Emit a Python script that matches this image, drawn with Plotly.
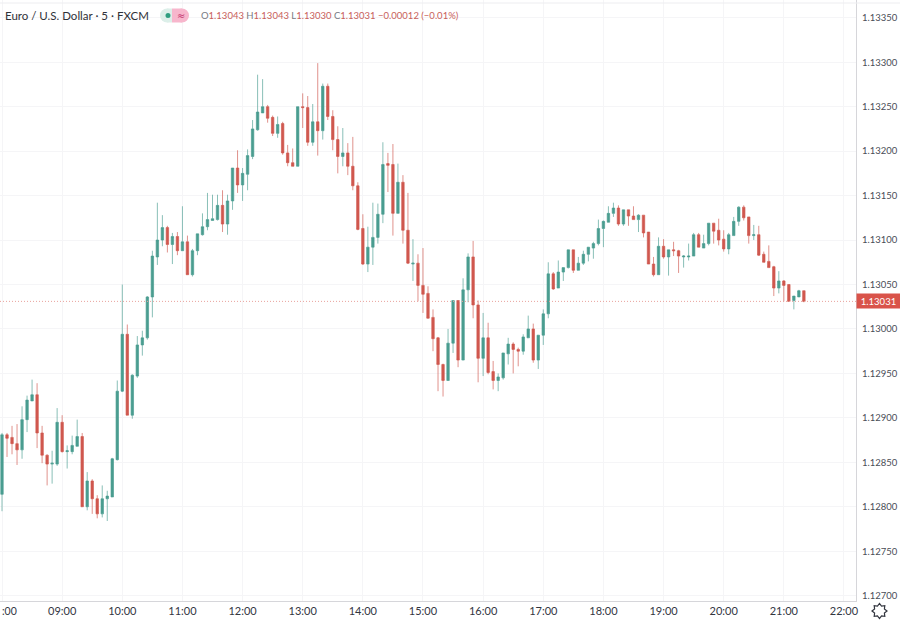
import math
import pandas as pd
import plotly.graph_objects as go

# 5 minute bars, EUR/USD
opens = [
    1.12814,1.12881,1.12878,1.12871,1.12864,1.12898,1.12919,1.12926,1.12883,1.12858,
    1.12848,1.12848,1.12895,1.12862,1.12862,1.12868,1.12879,1.12800,1.12829,1.12809,
    1.12792,1.12809,1.12811,1.12853,1.12930,1.12994,1.12903,1.12947,1.12982,1.12990,
    1.13036,1.13081,1.13100,1.13114,1.13095,1.13104,1.13088,1.13098,1.13061,1.13088,
    1.13106,1.13115,1.13122,1.13123,1.13139,1.13118,1.13144,1.13181,1.13162,1.13174,
    1.13194,1.13224,1.13243,1.13250,1.13238,1.13220,1.13231,1.13198,1.13187,1.13183,
    1.13250,1.13249,1.13210,1.13233,1.13223,1.13273,1.13239,1.13213,1.13194,1.13198,
    1.13183,1.13161,1.13113,1.13073,1.13092,1.13103,1.13129,1.13186,1.13185,1.13130,
    1.13165,1.13111,1.13073,1.13074,1.13049,1.13040,1.13013,1.12990,1.12960,1.12942,
    1.12984,1.13032,1.12965,1.13044,1.13081,1.13027,1.12967,1.12990,1.12952,1.12942,
    1.12945,1.12972,1.12983,1.12977,1.12975,1.12990,1.13000,1.12965,1.12993,1.13017,
    1.13062,1.13046,1.13064,1.13069,1.13089,1.13066,1.13074,1.13084,1.13091,1.13096,
    1.13113,1.13120,1.13130,1.13136,1.13118,1.13134,1.13127,1.13123,1.13128,1.13109,
    1.13073,1.13061,1.13093,1.13081,1.13089,1.13088,1.13081,1.13081,1.13082,1.13106,
    1.13091,1.13096,1.13119,1.13111,1.13101,1.13090,1.13105,1.13121,1.13137,1.13126,
    1.13105,1.13106,1.13084,1.13076,1.13070,1.13046,1.13054,1.13050,1.13032,1.13036,1.13043,
]
highs = [
    1.12883,1.12883,1.12891,1.12893,1.12913,1.12925,1.12943,1.12939,1.12891,1.12859,
    1.12863,1.12911,1.12903,1.12869,1.12880,1.12898,1.12883,1.12839,1.12831,1.12813,
    1.12824,1.12818,1.12855,1.12942,1.13050,1.13005,1.12949,1.12992,1.12998,1.13037,
    1.13088,1.13142,1.13128,1.13116,1.13108,1.13109,1.13138,1.13105,1.13090,1.13107,
    1.13130,1.13153,1.13151,1.13151,1.13156,1.13151,1.13181,1.13201,1.13181,1.13202,
    1.13235,1.13286,1.13281,1.13252,1.13240,1.13239,1.13233,1.13207,1.13203,1.13250,
    1.13265,1.13262,1.13253,1.13299,1.13276,1.13276,1.13246,1.13228,1.13226,1.13209,
    1.13216,1.13165,1.13129,1.13115,1.13142,1.13141,1.13210,1.13198,1.13208,1.13186,
    1.13173,1.13153,1.13101,1.13084,1.13091,1.13048,1.13022,1.12991,1.12961,1.13000,
    1.13032,1.13032,1.13057,1.13085,1.13099,1.13032,1.13018,1.13007,1.12964,1.12950,
    1.12973,1.12990,1.12985,1.12979,1.12994,1.13015,1.13006,1.12993,1.13022,1.13075,
    1.13064,1.13077,1.13069,1.13089,1.13089,1.13081,1.13088,1.13092,1.13098,1.13123,
    1.13122,1.13138,1.13142,1.13139,1.13134,1.13134,1.13138,1.13129,1.13128,1.13109,
    1.13081,1.13103,1.13101,1.13089,1.13098,1.13089,1.13083,1.13096,1.13108,1.13108,
    1.13106,1.13119,1.13119,1.13124,1.13111,1.13108,1.13126,1.13138,1.13139,1.13126,
    1.13117,1.13116,1.13087,1.13094,1.13071,1.13065,1.13055,1.13050,1.13037,1.13044,1.13043,
]
lows = [
    1.12795,1.12856,1.12859,1.12847,1.12854,1.12884,1.12919,1.12866,1.12849,1.12824,
    1.12826,1.12846,1.12861,1.12843,1.12859,1.12868,1.12800,1.12796,1.12792,1.12787,
    1.12788,1.12784,1.12811,1.12852,1.12929,1.12903,1.12899,1.12945,1.12970,1.12988,
    1.13013,1.13072,1.13093,1.13086,1.13073,1.13083,1.13088,1.13061,1.13059,1.13083,
    1.13105,1.13111,1.13122,1.13122,1.13109,1.13106,1.13134,1.13153,1.13144,1.13156,
    1.13191,1.13223,1.13243,1.13232,1.13217,1.13215,1.13196,1.13183,1.13183,1.13183,
    1.13226,1.13206,1.13206,1.13195,1.13213,1.13235,1.13201,1.13175,1.13183,1.13173,
    1.13156,1.13111,1.13072,1.13064,1.13072,1.13096,1.13119,1.13154,1.13105,1.13130,
    1.13096,1.13073,1.13054,1.13031,1.13018,1.13012,1.12975,1.12930,1.12924,1.12942,
    1.12973,1.12957,1.12965,1.13030,1.13012,1.12940,1.12947,1.12949,1.12932,1.12930,
    1.12943,1.12960,1.12950,1.12958,1.12971,1.12990,1.12962,1.12955,1.12982,1.13012,
    1.13044,1.13046,1.13054,1.13068,1.13063,1.13066,1.13072,1.13076,1.13079,1.13094,
    1.13092,1.13120,1.13126,1.13116,1.13116,1.13116,1.13123,1.13109,1.13103,1.13073,
    1.13059,1.13061,1.13079,1.13060,1.13082,1.13063,1.13069,1.13077,1.13082,1.13092,
    1.13091,1.13094,1.13096,1.13094,1.13087,1.13084,1.13105,1.13116,1.13122,1.13096,
    1.13100,1.13082,1.13075,1.13069,1.13037,1.13040,1.13031,1.13031,1.13022,1.13036,1.13030,
]
closes = [
    1.12881,1.12877,1.12871,1.12864,1.12898,1.12920,1.12926,1.12883,1.12858,1.12848,
    1.12849,1.12895,1.12862,1.12863,1.12869,1.12879,1.12800,1.12829,1.12809,1.12792,
    1.12809,1.12812,1.12854,1.12930,1.12994,1.12903,1.12948,1.12982,1.12990,1.13036,
    1.13082,1.13100,1.13114,1.13095,1.13104,1.13088,1.13098,1.13061,1.13088,1.13107,
    1.13115,1.13123,1.13124,1.13139,1.13118,1.13144,1.13181,1.13162,1.13175,1.13195,
    1.13225,1.13244,1.13250,1.13237,1.13220,1.13230,1.13198,1.13187,1.13183,1.13250,
    1.13249,1.13210,1.13233,1.13223,1.13273,1.13239,1.13213,1.13194,1.13198,1.13183,
    1.13161,1.13112,1.13073,1.13092,1.13103,1.13129,1.13185,1.13184,1.13130,1.13165,
    1.13111,1.13074,1.13074,1.13049,1.13039,1.13012,1.12989,1.12960,1.12942,1.12984,
    1.13032,1.12965,1.13044,1.13081,1.13027,1.12967,1.12990,1.12951,1.12942,1.12946,
    1.12973,1.12983,1.12977,1.12975,1.12991,1.13000,1.12965,1.12993,1.13017,1.13062,
    1.13045,1.13064,1.13069,1.13089,1.13066,1.13074,1.13084,1.13092,1.13096,1.13113,
    1.13121,1.13130,1.13136,1.13118,1.13134,1.13127,1.13123,1.13128,1.13108,1.13073,
    1.13061,1.13093,1.13081,1.13089,1.13088,1.13082,1.13082,1.13082,1.13106,1.13092,
    1.13096,1.13119,1.13110,1.13100,1.13090,1.13106,1.13121,1.13137,1.13125,1.13105,
    1.13106,1.13083,1.13075,1.13069,1.13046,1.13054,1.13049,1.13031,1.13037,1.13043,1.13031,
]
times = pd.date_range("2021-12-01 08:00", periods=len(closes), freq="5min")

GREEN = "#4a9d90"
RED = "#d0584f"
TEXT = "#4a4d57"
GRID = "#f5f5f7"
FONT = "Lato"
W, H = 856, 601  # plot area in px


def px(v):
    return v / W


def py(v):
    return (H - v) / H


fig = go.Figure()

fig.add_trace(go.Candlestick(
    x=times, open=opens, high=highs, low=lows, close=closes,
    increasing=dict(line=dict(color="rgba(74,157,144,0.65)", width=1), fillcolor=GREEN),
    decreasing=dict(line=dict(color="rgba(208,88,79,0.65)", width=1), fillcolor=RED),
    whiskerwidth=0, showlegend=False,
))

fig.update_xaxes(
    range=["2021-12-01 07:58", "2021-12-01 22:12"],
    rangeslider_visible=False,
    tick0="2021-12-01 08:00", dtick=3600000, tickformat="%H:%M",
    showgrid=True, gridcolor=GRID, gridwidth=1,
    showline=True, linecolor="#d6d6da", linewidth=1, ticks="", zeroline=False,
    tickfont=dict(family=FONT, size=11, color="#33363f"),
)
fig.update_yaxes(
    side="right", range=[1.12694, 1.1337],
    tick0=1.127, dtick=0.0005, tickformat=".5f",
    showgrid=True, gridcolor=GRID, gridwidth=1,
    showline=True, linecolor="#d6d6da", linewidth=1, ticks="", zeroline=False,
    ticklabelstandoff=3,
    tickfont=dict(family=FONT, size=9.5, color=TEXT),
)

# what is left of the first hour label at the page edge
fig.add_annotation(xref="paper", yref="paper", x=px(0), y=py(611), xanchor="left", yanchor="middle",
                   text=":00", showarrow=False, font=dict(family=FONT, size=10.5, color="#33363f"))

# last price line and its tag
fig.add_shape(type="line", xref="paper", yref="y", x0=0, x1=1, y0=closes[-1], y1=closes[-1],
              line=dict(color="#e9a29c", width=1, dash="1px,2px"))
fig.add_annotation(xref="paper", yref="y", x=1, y=closes[-1], xanchor="left", yanchor="middle",
                   text=f"{closes[-1]:.5f}", showarrow=False, bgcolor="#d9534a", align="center",
                   font=dict(family=FONT, size=9.5, color="white"), width=43, height=14, borderpad=0)

# thin line along the top
fig.add_shape(type="line", xref="paper", yref="paper", x0=0, x1=px(900), y0=py(3), y1=py(3),
              line=dict(color="#ededf0", width=1))

# header
fig.add_annotation(xref="paper", yref="paper", x=px(3), y=py(16), xanchor="left", yanchor="middle",
                   text="Euro / U.S. Dollar · 5 · FXCM", showarrow=False,
                   font=dict(family=FONT, size=11.5, color="#2f3138"))
for x0, x1, col in [(160, 174, "#dcefe9"), (175, 189, "#f7b6cc")]:
    fig.add_shape(type="circle", xref="paper", yref="paper", x0=px(x0), x1=px(x1),
                  y0=py(22.5), y1=py(8.5), fillcolor=col, line_width=0)
fig.add_shape(type="rect", xref="paper", yref="paper", x0=px(167), x1=px(172),
              y0=py(22.5), y1=py(8.5), fillcolor="#dcefe9", line_width=0)
fig.add_shape(type="rect", xref="paper", yref="paper", x0=px(172), x1=px(182),
              y0=py(22.5), y1=py(8.5), fillcolor="#f7b6cc", line_width=0)
fig.add_shape(type="circle", xref="paper", yref="paper", x0=px(165.5), x1=px(170.5),
              y0=py(18), y1=py(13), fillcolor="#2f9e80", line_width=0)
fig.add_annotation(xref="paper", yref="paper", x=px(181), y=py(15.5), xanchor="center", yanchor="middle",
                   text="≈", showarrow=False, font=dict(family="DejaVu Sans", size=10, color="#c2306b"))

num = '<span style="color:#c8605a">{}</span>'
head = (f'O{num.format("1.13043")} H{num.format("1.13043")} L{num.format("1.13030")} '
        f'C{num.format("1.13031")} {num.format("−0.00012 (−0.01%)")}')
fig.add_annotation(xref="paper", yref="paper", x=px(199), y=py(16), xanchor="left", yanchor="middle",
                   text=head, showarrow=False, font=dict(family=FONT, size=9.5, color="#777a84"))

# settings icon under the price scale, outline gear with 8 teeth
pts = []
for i in range(16):
    r = 7.5 if i % 2 == 0 else 5.3
    a = math.pi * i / 8
    pts.append((px(879.5 + r * math.cos(a)), py(611 + r * math.sin(a))))
gear = "M " + " L ".join(f"{a:.5f},{b:.5f}" for a, b in pts) + " Z"
fig.add_shape(type="path", xref="paper", yref="paper", path=gear, line=dict(color="#33363f", width=1.2))

fig.update_layout(
    width=900, height=620,
    margin=dict(l=0, r=44, t=0, b=19),
    paper_bgcolor="white", plot_bgcolor="white",
    boxgap=0.3,
)

fig.write_html("out.html", config={"displayModeBar": False},
               post_script="document.body.style.margin='0';document.body.style.overflow='hidden';")
